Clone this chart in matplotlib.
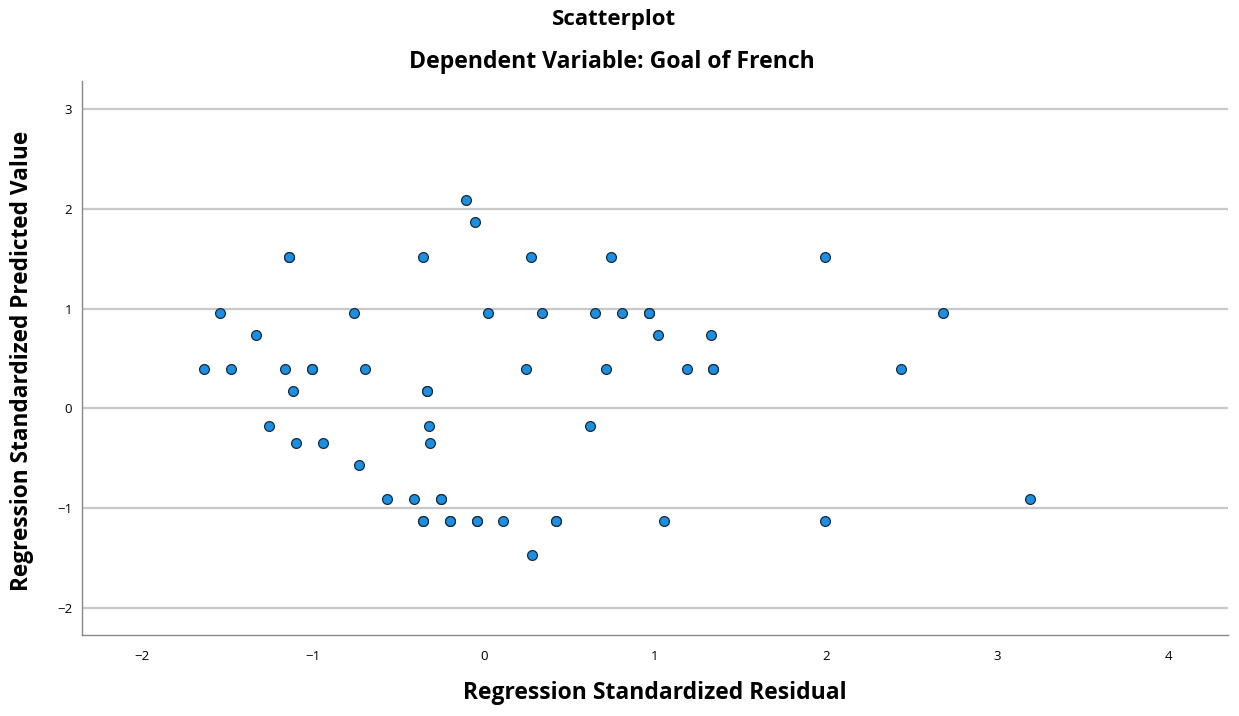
import matplotlib
matplotlib.use("Agg")
import matplotlib.pyplot as plt

residual = [-0.105, -0.053, -1.138, -1.138, -0.355, 0.273, 0.745, 1.996,
            -1.544, -0.760, 0.023, 0.337, 0.649, 0.807, 0.963, 0.963, 2.684,
            -1.333, 1.015, 1.327,
            -1.635, -1.479, -1.166, -1.008, -1.008, -0.696, 0.246, 0.711, 1.185, 1.341, 1.341, 2.437,
            -1.115, -0.333, -0.333,
            -1.259, -0.322, 0.620,
            -1.096, -0.940, -0.316,
            -0.733,
            -0.565, -0.407, -0.250, -0.250, 3.193,
            -0.355, -0.355, -0.199, -0.199, -0.043, -0.043, 0.113, 0.421, 0.421, 1.053, 1.992,
            0.283]
predicted = [2.087, 1.863, 1.520, 1.520, 1.520, 1.520, 1.520, 1.520,
             0.953, 0.953, 0.953, 0.953, 0.953, 0.953, 0.953, 0.953, 0.953,
             0.737, 0.737, 0.737,
             0.390, 0.390, 0.390, 0.390, 0.390, 0.390, 0.390, 0.390, 0.390, 0.390, 0.390, 0.390,
             0.173, 0.173, 0.173,
             -0.177, -0.177, -0.177,
             -0.347, -0.347, -0.347,
             -0.563,
             -0.910, -0.910, -0.910, -0.910, -0.907,
             -1.127, -1.127, -1.127, -1.127, -1.127, -1.127, -1.127, -1.127, -1.127, -1.127, -1.130,
             -1.473]

x_ticks = [-2, -1, 0, 1, 2, 3, 4]
y_ticks = [-2, -1, 0, 1, 2, 3]

FONT = ["Open Sans", "DejaVu Sans"]

fig = plt.figure(figsize=(12.39, 7.16), dpi=100)
W, H = 1239, 716
left, right, top, bottom = 82, 1228, 81, 635
ax = fig.add_axes([left / W, 1 - bottom / H, (right - left) / W, (bottom - top) / H])

ax.set_xlim(-2.35, 4.35)
ax.set_ylim(-2.27, 3.28)
ax.set_xticks(x_ticks)
ax.set_yticks(y_ticks)
ax.set_xticklabels([str(t).replace("-", "\u2212") for t in x_ticks], fontsize=9.5, fontfamily=FONT)
ax.set_yticklabels([str(t).replace("-", "\u2212") for t in y_ticks], fontsize=9.5, fontfamily=FONT)
ax.tick_params(length=0)
ax.tick_params(axis="x", pad=11)
ax.tick_params(axis="y", pad=7)

for s in ["top", "right"]:
    ax.spines[s].set_visible(False)
for s in ["left", "bottom"]:
    ax.spines[s].set_color("#888888")
    ax.spines[s].set_linewidth(1.0)

ax.yaxis.grid(True, color="#c8c8c8", linewidth=1.6)
ax.set_axisbelow(True)

ax.scatter(residual, predicted, s=50, color="#1b8fe2", edgecolors="#1a2a3a",
           linewidths=0.9, zorder=3)

fig.text(((left + right) / 2 + 0) / W, 1 - 693 / H, "Regression Standardized Residual",
         ha="center", va="center", fontsize=16.5, fontweight="bold", fontfamily=FONT)
fig.text(22 / W, 1 - 361 / H, "Regression Standardized Predicted Value",
         ha="center", va="center", rotation=90, fontsize=16.3, fontweight="bold", fontfamily=FONT)

fig.text(614 / W, 1 - 20 / H, "Scatterplot", ha="center", va="center", fontsize=16,
         fontweight="bold", fontfamily=FONT)
fig.text(612 / W, 1 - 62 / H, "Dependent Variable: Goal of French", ha="center", va="center",
         fontsize=16.6, fontweight="bold", fontfamily=FONT)

fig.savefig("out.png", dpi=100, facecolor="white")
